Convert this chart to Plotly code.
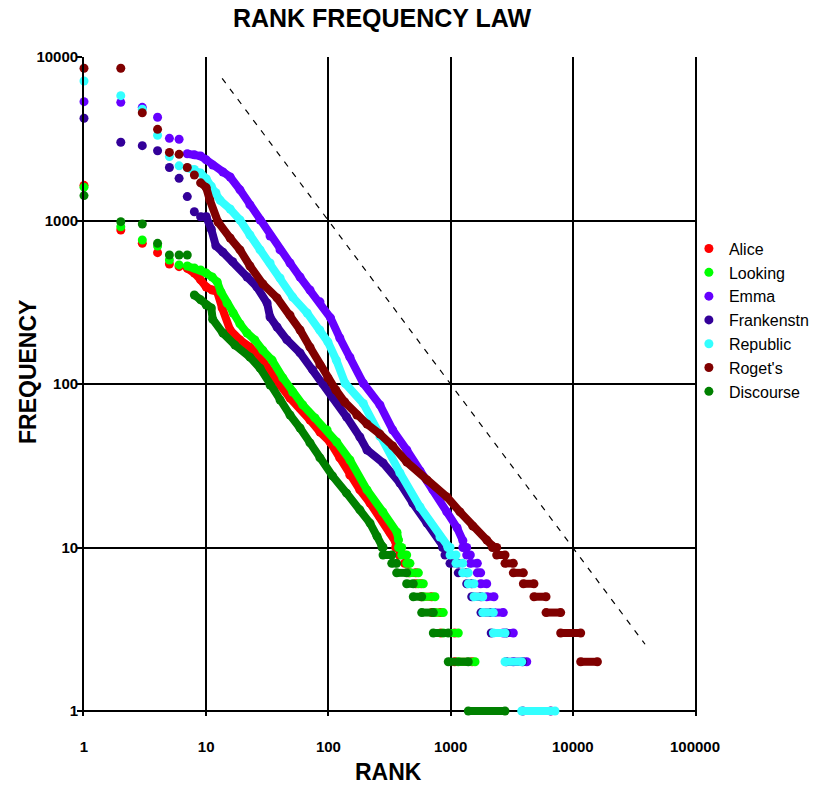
import plotly.graph_objects as go

# ---------------- data ----------------
series_names = ["Alice", "Looking", "Emma", "Frankenstn", "Republic", "Roget's", "Discourse"]
series_colors = ["#FF0000", "#00FF00", "#6600FF", "#330099", "#33FFFF", "#800000", "#008000"]

# sparse top-ranked words (separate markers)
alice_head_rank = [1, 2, 3, 4, 5, 6]
alice_head_freq = [1640, 875, 725, 636, 542, 522]
looking_head_rank = [1, 2, 3, 4, 5, 6]
looking_head_freq = [1600, 916, 760, 698, 573, 535]
emma_head_rank = [1, 2, 3, 4, 5, 6]
emma_head_freq = [5330, 5280, 4920, 4280, 3180, 3140]
frank_head_rank = [1, 2, 3, 4, 5, 6, 7, 8]
frank_head_freq = [4220, 3010, 2870, 2670, 2110, 1810, 1400, 1132]
republic_head_rank = [1, 2, 3, 4, 5, 6]
republic_head_freq = [7130, 5800, 4790, 3320, 2460, 2160]
rogets_head_rank = [1, 2, 3, 4, 5, 6, 7, 8]
rogets_head_freq = [8530, 8530, 4560, 3610, 2610, 2540, 2110, 1897]
discourse_head_rank = [1, 2, 3, 4, 5, 6, 7]
discourse_head_freq = [1420, 984, 952, 725, 615, 615, 615]

# dense middle part (markers merge into a band)
alice_curve_rank = [7, 8, 9, 10, 11.2, 12.3, 13.5, 15.7, 18.9, 22.8, 27.6, 33.3, 40.2, 48.5, 58.6,
                    70.7, 85.3, 103, 124, 150, 181, 219, 264, 319, 355]
alice_curve_freq = [510, 477, 433, 392, 376, 366, 292, 214, 186, 168, 146, 117, 98.6, 82, 71.3,
                    60.2, 50.8, 44.2, 35.3, 27.7, 22.5, 18.7, 15.4, 12.4, 10.8]
looking_curve_rank = [7, 8, 9, 10, 11.2, 12.3, 13.2, 14.8, 16.6, 18.9, 21.6, 25, 29, 34.6, 42.4,
                      51, 61.7, 77.7, 97.5, 117, 150, 207, 279, 364, 375]
looking_curve_freq = [527, 512, 498, 477, 451, 421, 366, 313, 272, 233, 205, 186, 161, 140, 109,
                      89.3, 74.5, 62, 52.3, 44.2, 34.3, 22.5, 16.5, 12.4, 11.1]
emma_curve_rank = [7, 8, 9, 10, 11.3, 13.7, 15.7, 18.9, 22.8, 27.6, 33.3, 40.2, 48.5, 58.6, 70.7,
                   85.3, 104, 124, 150, 193, 264, 336, 438, 562, 718, 932, 1130, 1260]
emma_curve_freq = [2560, 2520, 2480, 2350, 2183, 1980, 1845, 1540, 1245, 1007, 804, 661, 550, 451, 376,
                   318, 254, 191, 146, 101, 74.5, 52.3, 39.5, 29.4, 22.5, 16.5, 13.2, 11]
frank_curve_rank = [9, 10, 11, 12, 13.7, 16.5, 21.6, 26, 31.5, 33.3, 38, 45.8, 58.6, 74.5, 90,
                    109, 141, 181, 207, 280, 385, 490, 640, 819, 860]
frank_curve_freq = [1055, 1055, 884, 700, 640, 560, 451, 392, 313, 257, 223, 186, 155, 122, 101,
                    83, 62.8, 47.4, 39.5, 32.9, 24.8, 18.7, 14.1, 11.1, 10.3]
republic_curve_rank = [7, 8, 9, 10, 11, 12, 13, 15.7, 18.9, 22.8, 27.6, 33.3, 40.2, 51, 67,
                       85, 99, 116, 137, 193, 264, 385, 562, 819, 950]
republic_curve_freq = [2100, 2050, 1950, 1800, 1620, 1480, 1330, 1175, 1007, 815, 661, 550, 445, 340, 272,
                       214, 181, 140, 101, 76, 47.8, 28.6, 17.7, 11.6, 10.2]
rogets_curve_rank = [9, 10, 10.7, 12.5, 15.7, 18.9, 22.8, 29.1, 38, 48.5, 58.6, 70.7, 85.3, 99, 115,
                     136, 171, 207, 264, 336, 438, 640, 932, 1194, 1520, 1980, 2200]
rogets_curve_freq = [1700, 1590, 1335, 979, 781, 661, 527, 409, 336, 264, 214, 168, 131, 109, 91.9,
                     77.6, 64.6, 56.9, 49.4, 41.8, 33.3, 25.9, 20.4, 16.5, 13.5, 11.1, 10.2]
discourse_curve_rank = [8, 9, 10, 11, 11.3, 13.7, 17.2, 22.8, 27.6, 33.3, 40.2, 48.5, 58.6, 70.7,
                        85.3, 108, 141, 181, 219, 250, 275]
discourse_curve_freq = [350, 327, 304, 292, 249, 205, 173, 146, 125, 98.6, 79.8, 64.6, 53.8, 43.6,
                        35.3, 27.4, 21.5, 17, 14.1, 11.7, 10.2]

# low-frequency tail: last rank that has each frequency
alice_tail_freq = [10, 9, 8, 7, 6, 5, 4, 3, 2]
alice_tail_last = [380, 420, 455, 520, 575, 700, 830, 1080, 1500]
looking_tail_freq = [10, 9, 8, 7, 6, 5, 4, 3, 2]
looking_tail_last = [398, 437, 465, 545, 598, 745, 871, 1156, 1585]
emma_tail_freq = [10, 9, 8, 7, 6, 5, 4, 3, 2]
emma_tail_last = [1355, 1450, 1655, 1763, 1975, 2265, 2700, 3260, 4200]
frank_tail_freq = [10, 9, 8, 7, 6, 5, 4, 3, 2, 1]
frank_tail_last = [900, 989, 1156, 1355, 1489, 1773, 2150, 2850, 3900, 6600]
republic_tail_freq = [10, 9, 8, 7, 6, 5, 4, 3, 2, 1]
republic_tail_last = [990, 1107, 1256, 1396, 1553, 1833, 2238, 2787, 3818, 7150]
rogets_tail_freq = [10, 9, 8, 7, 6, 5, 4, 3, 2]
rogets_tail_last = [2384, 2787, 3260, 3940, 4810, 6040, 7960, 11600, 15900]
discourse_tail_freq = [10, 9, 8, 7, 6, 5, 4, 3, 2, 1]
discourse_tail_last = [280, 330, 362, 437, 495, 580, 722, 957, 1396, 2787]

# reference line  f = 100000 / r
ref_rank = [13.5, 39000]
ref_freq = [7400, 2.56]

x_tick_values = [1, 10, 100, 1000, 10000, 100000]
x_tick_labels = ["1", "10", "100", "1000", "10000", "100000"]
y_tick_values = [1, 10, 100, 1000, 10000]
y_tick_labels = ["1", "10", "100", "1000", "10000"]

series_data = [
    (alice_head_rank, alice_head_freq, alice_curve_rank, alice_curve_freq, alice_tail_freq, alice_tail_last),
    (looking_head_rank, looking_head_freq, looking_curve_rank, looking_curve_freq, looking_tail_freq, looking_tail_last),
    (emma_head_rank, emma_head_freq, emma_curve_rank, emma_curve_freq, emma_tail_freq, emma_tail_last),
    (frank_head_rank, frank_head_freq, frank_curve_rank, frank_curve_freq, frank_tail_freq, frank_tail_last),
    (republic_head_rank, republic_head_freq, republic_curve_rank, republic_curve_freq, republic_tail_freq, republic_tail_last),
    (rogets_head_rank, rogets_head_freq, rogets_curve_rank, rogets_curve_freq, rogets_tail_freq, rogets_tail_last),
    (discourse_head_rank, discourse_head_freq, discourse_curve_rank, discourse_curve_freq, discourse_tail_freq, discourse_tail_last),
]

# ---------------- figure ----------------
fig = go.Figure()
BAND = 8
MSIZE = 9
FONT = "Liberation Sans, Arial, sans-serif"

for name, color, (hr, hf, cr, cf, tf, tl) in zip(series_names, series_colors, series_data):
    fig.add_trace(go.Scatter(
        x=hr, y=hf, mode="markers", name=name, legendgroup=name,
        marker=dict(color=color, size=MSIZE, symbol="circle"),
        cliponaxis=False,
    ))
    xs = list(cr)
    ys = list(cf)
    start = cr[-1]
    for f, last in zip(tf, tl):
        xs += [None, start, last]
        ys += [None, f, f]
        start = last
    fig.add_trace(go.Scatter(
        x=xs, y=ys, mode="lines+markers", name=name, legendgroup=name, showlegend=False,
        line=dict(color=color, width=BAND),
        marker=dict(color=color, size=MSIZE, symbol="circle"),
        cliponaxis=False, connectgaps=False,
    ))

fig.add_trace(go.Scatter(
    x=ref_rank, y=ref_freq, mode="lines", showlegend=False,
    line=dict(color="black", width=1.2, dash="6px,7px"),
))

axis_font = dict(family=FONT, size=15, color="black", weight="bold")

fig.update_xaxes(
    type="log", range=[0, 5],
    tickvals=x_tick_values, ticktext=x_tick_labels, tickfont=axis_font,
    showgrid=True, gridcolor="black", gridwidth=1.8,
    showline=False, ticks="inside", ticklen=10, tickcolor="black", tickwidth=1.5,
    ticklabelstandoff=20,
    zeroline=False,
)
fig.update_yaxes(
    type="log", range=[-5 / 163.5, 4],
    tickvals=y_tick_values, ticktext=y_tick_labels, tickfont=axis_font,
    showgrid=True, gridcolor="black", gridwidth=1.8,
    showline=True, mirror=True, linecolor="black", linewidth=1.8,
    ticks="outside", ticklen=5, tickcolor="black", tickwidth=1.5,
    ticklabelstandoff=-4,
    zeroline=False,
)

# plot area at page x 84..695, y 57..716
fig.update_layout(
    width=833, height=785,
    margin=dict(l=84, r=138, t=57, b=69),
    paper_bgcolor="white", plot_bgcolor="white",
    title=dict(text="RANK FREQUENCY LAW", x=(382 - 84) / 611, xref="paper", xanchor="center",
               y=1 - 18 / 785, yref="container", yanchor="middle",
               font=dict(family=FONT, size=25, color="black", weight="bold")),
    legend=dict(x=0.99, y=0.735, xanchor="left", yanchor="top",
                font=dict(family=FONT, size=16, color="black"),
                tracegroupgap=0, bgcolor="rgba(0,0,0,0)", itemwidth=30),
    showlegend=True,
    annotations=[
        dict(text="RANK", xref="paper", yref="paper", x=(388 - 84) / 611, y=-(772 - 716) / 659,
             xanchor="center", yanchor="middle", showarrow=False,
             font=dict(family=FONT, size=23, color="black", weight="bold")),
        dict(text="FREQUENCY", xref="paper", yref="paper", x=(28 - 84) / 611, y=(716 - 372) / 659,
             xanchor="center", yanchor="middle", showarrow=False, textangle=-90,
             font=dict(family=FONT, size=23, color="black", weight="bold")),
    ],
)

fig.write_html("out.html", config={"displayModeBar": False},
               post_script="document.body.style.margin='0px';")
